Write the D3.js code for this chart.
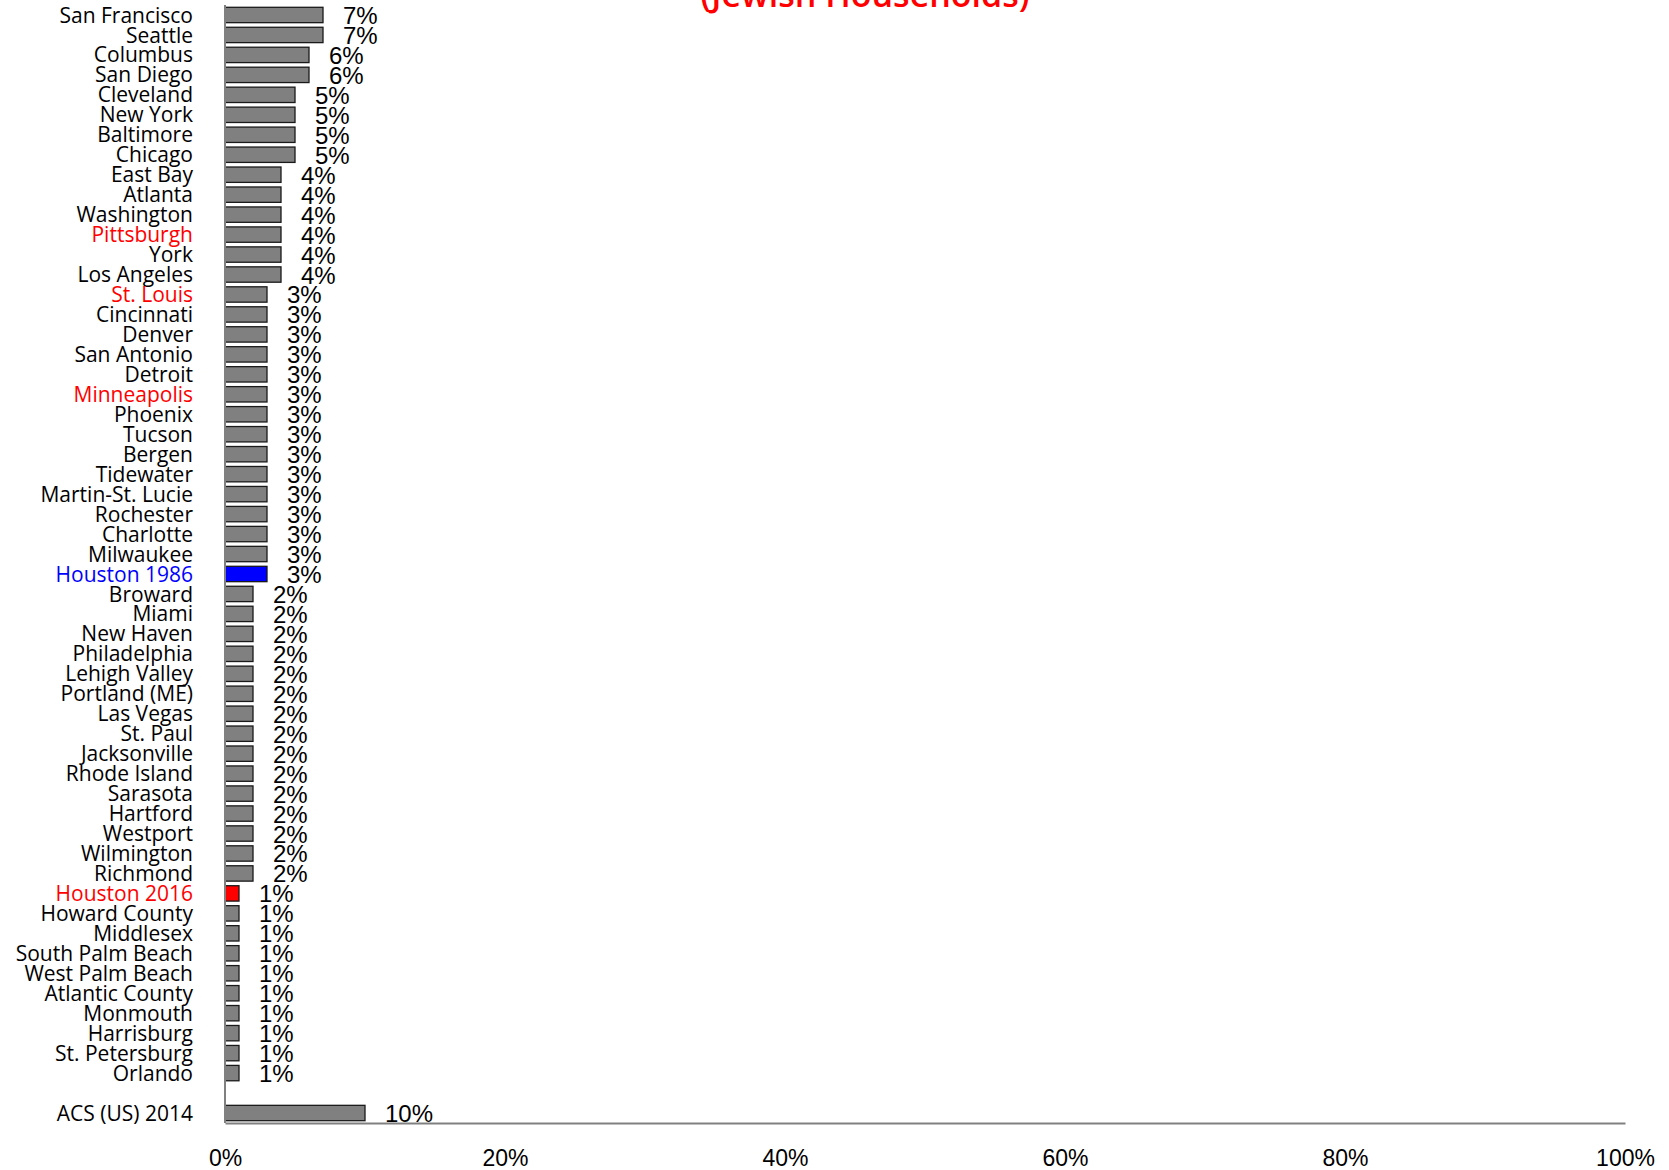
<!DOCTYPE html>
<html>
<head>
<meta charset="utf-8">
<script src="https://cdn.jsdelivr.net/npm/d3@7"></script>
<style>
  html, body { margin: 0; padding: 0; background: #fff; }
  svg { display: block; }
</style>
</head>
<body>
<svg id="chart" width="1669" height="1170"></svg>
<script>
const titleText = "(Jewish Households)";
const categories = [
  "San Francisco","Seattle","Columbus","San Diego","Cleveland","New York","Baltimore","Chicago",
  "East Bay","Atlanta","Washington","Pittsburgh","York","Los Angeles",
  "St. Louis","Cincinnati","Denver","San Antonio","Detroit","Minneapolis","Phoenix","Tucson",
  "Bergen","Tidewater","Martin-St. Lucie","Rochester","Charlotte","Milwaukee","Houston 1986",
  "Broward","Miami","New Haven","Philadelphia","Lehigh Valley","Portland (ME)","Las Vegas",
  "St. Paul","Jacksonville","Rhode Island","Sarasota","Hartford","Westport","Wilmington","Richmond",
  "Houston 2016","Howard County","Middlesex","South Palm Beach","West Palm Beach","Atlantic County",
  "Monmouth","Harrisburg","St. Petersburg","Orlando","","ACS (US) 2014"
];
const values = [
  7,7,6,6,5,5,5,5,
  4,4,4,4,4,4,
  3,3,3,3,3,3,3,3,
  3,3,3,3,3,3,3,
  2,2,2,2,2,2,2,
  2,2,2,2,2,2,2,2,
  1,1,1,1,1,1,
  1,1,1,1,null,10
];
const redLabels = ["Pittsburgh","St. Louis","Minneapolis","Houston 2016"];
const blueLabels = ["Houston 1986"];
const xTicks = [0,20,40,60,80,100];

const data = categories.map((c,i)=>({key: c === "" ? "__gap__" : c, name: c, value: values[i]}));

const svg = d3.select("#chart");
const x = d3.scaleLinear().domain([0,100]).range([225,1625]);
const y = d3.scaleBand().domain(data.map(d=>d.key)).range([5,1123]).paddingInner(0.23).paddingOuter(0.115);

// Title (cut off at top)
svg.append("text")
  .attr("x", 865).attr("y", 7)
  .attr("text-anchor","middle")
  .attr("font-family","'Open Sans', sans-serif")
  .attr("font-weight","600")
  .attr("font-size", 34)
  .attr("fill","#ff0000")
  .text(titleText);

// bars
const bars = data.filter(d=>d.value!=null);
svg.append("g").selectAll("rect").data(bars).join("rect")
  .attr("x", x(0))
  .attr("y", d=>y(d.key))
  .attr("width", d=>x(d.value)-x(0))
  .attr("height", y.bandwidth())
  .attr("fill", d=> d.name==="Houston 1986" ? "#0000ff" : d.name==="Houston 2016" ? "#ff0000" : "#808080")
  .attr("stroke","#1a1a1a")
  .attr("stroke-width",1.3);

// value labels
svg.append("g").selectAll("text").data(bars).join("text")
  .attr("x", d=>x(d.value)+20)
  .attr("y", d=>y(d.key)+y.bandwidth()/2+9)
  .attr("font-family","'Liberation Sans', Arial, sans-serif")
  .attr("font-size", 24)
  .attr("fill","#000")
  .text(d=>d.value+"%");

// left axis
const yAxis = d3.axisLeft(y).tickSize(0).tickPadding(32).tickFormat(k => k==="__gap__" ? "" : k);
const gy = svg.append("g").attr("transform",`translate(${x(0)},0)`).call(yAxis);
gy.select(".domain").remove();
gy.selectAll(".tick text")
  .attr("font-family","'Open Sans', sans-serif")
  .attr("font-size", 21)
  .attr("dy","0.36em")
  .attr("fill", k => redLabels.includes(k) ? "#ff0000" : blueLabels.includes(k) ? "#0000ff" : "#000");

svg.append("line")
  .attr("x1", x(0)).attr("x2", x(0))
  .attr("y1", 5).attr("y2", 1123)
  .attr("stroke","#808080").attr("stroke-width",2);

// bottom axis
const xAxis = d3.axisBottom(x).tickValues(xTicks).tickSize(0).tickPadding(27).tickFormat(d=>d+"%");
const gx = svg.append("g").attr("transform","translate(0,1123)").call(xAxis);
gx.select(".domain").attr("stroke","#808080").attr("stroke-width",2);
gx.selectAll(".tick text")
  .attr("font-family","'Liberation Sans', Arial, sans-serif")
  .attr("font-size", 23)
  .attr("fill","#000");
</script>
</body>
</html>
